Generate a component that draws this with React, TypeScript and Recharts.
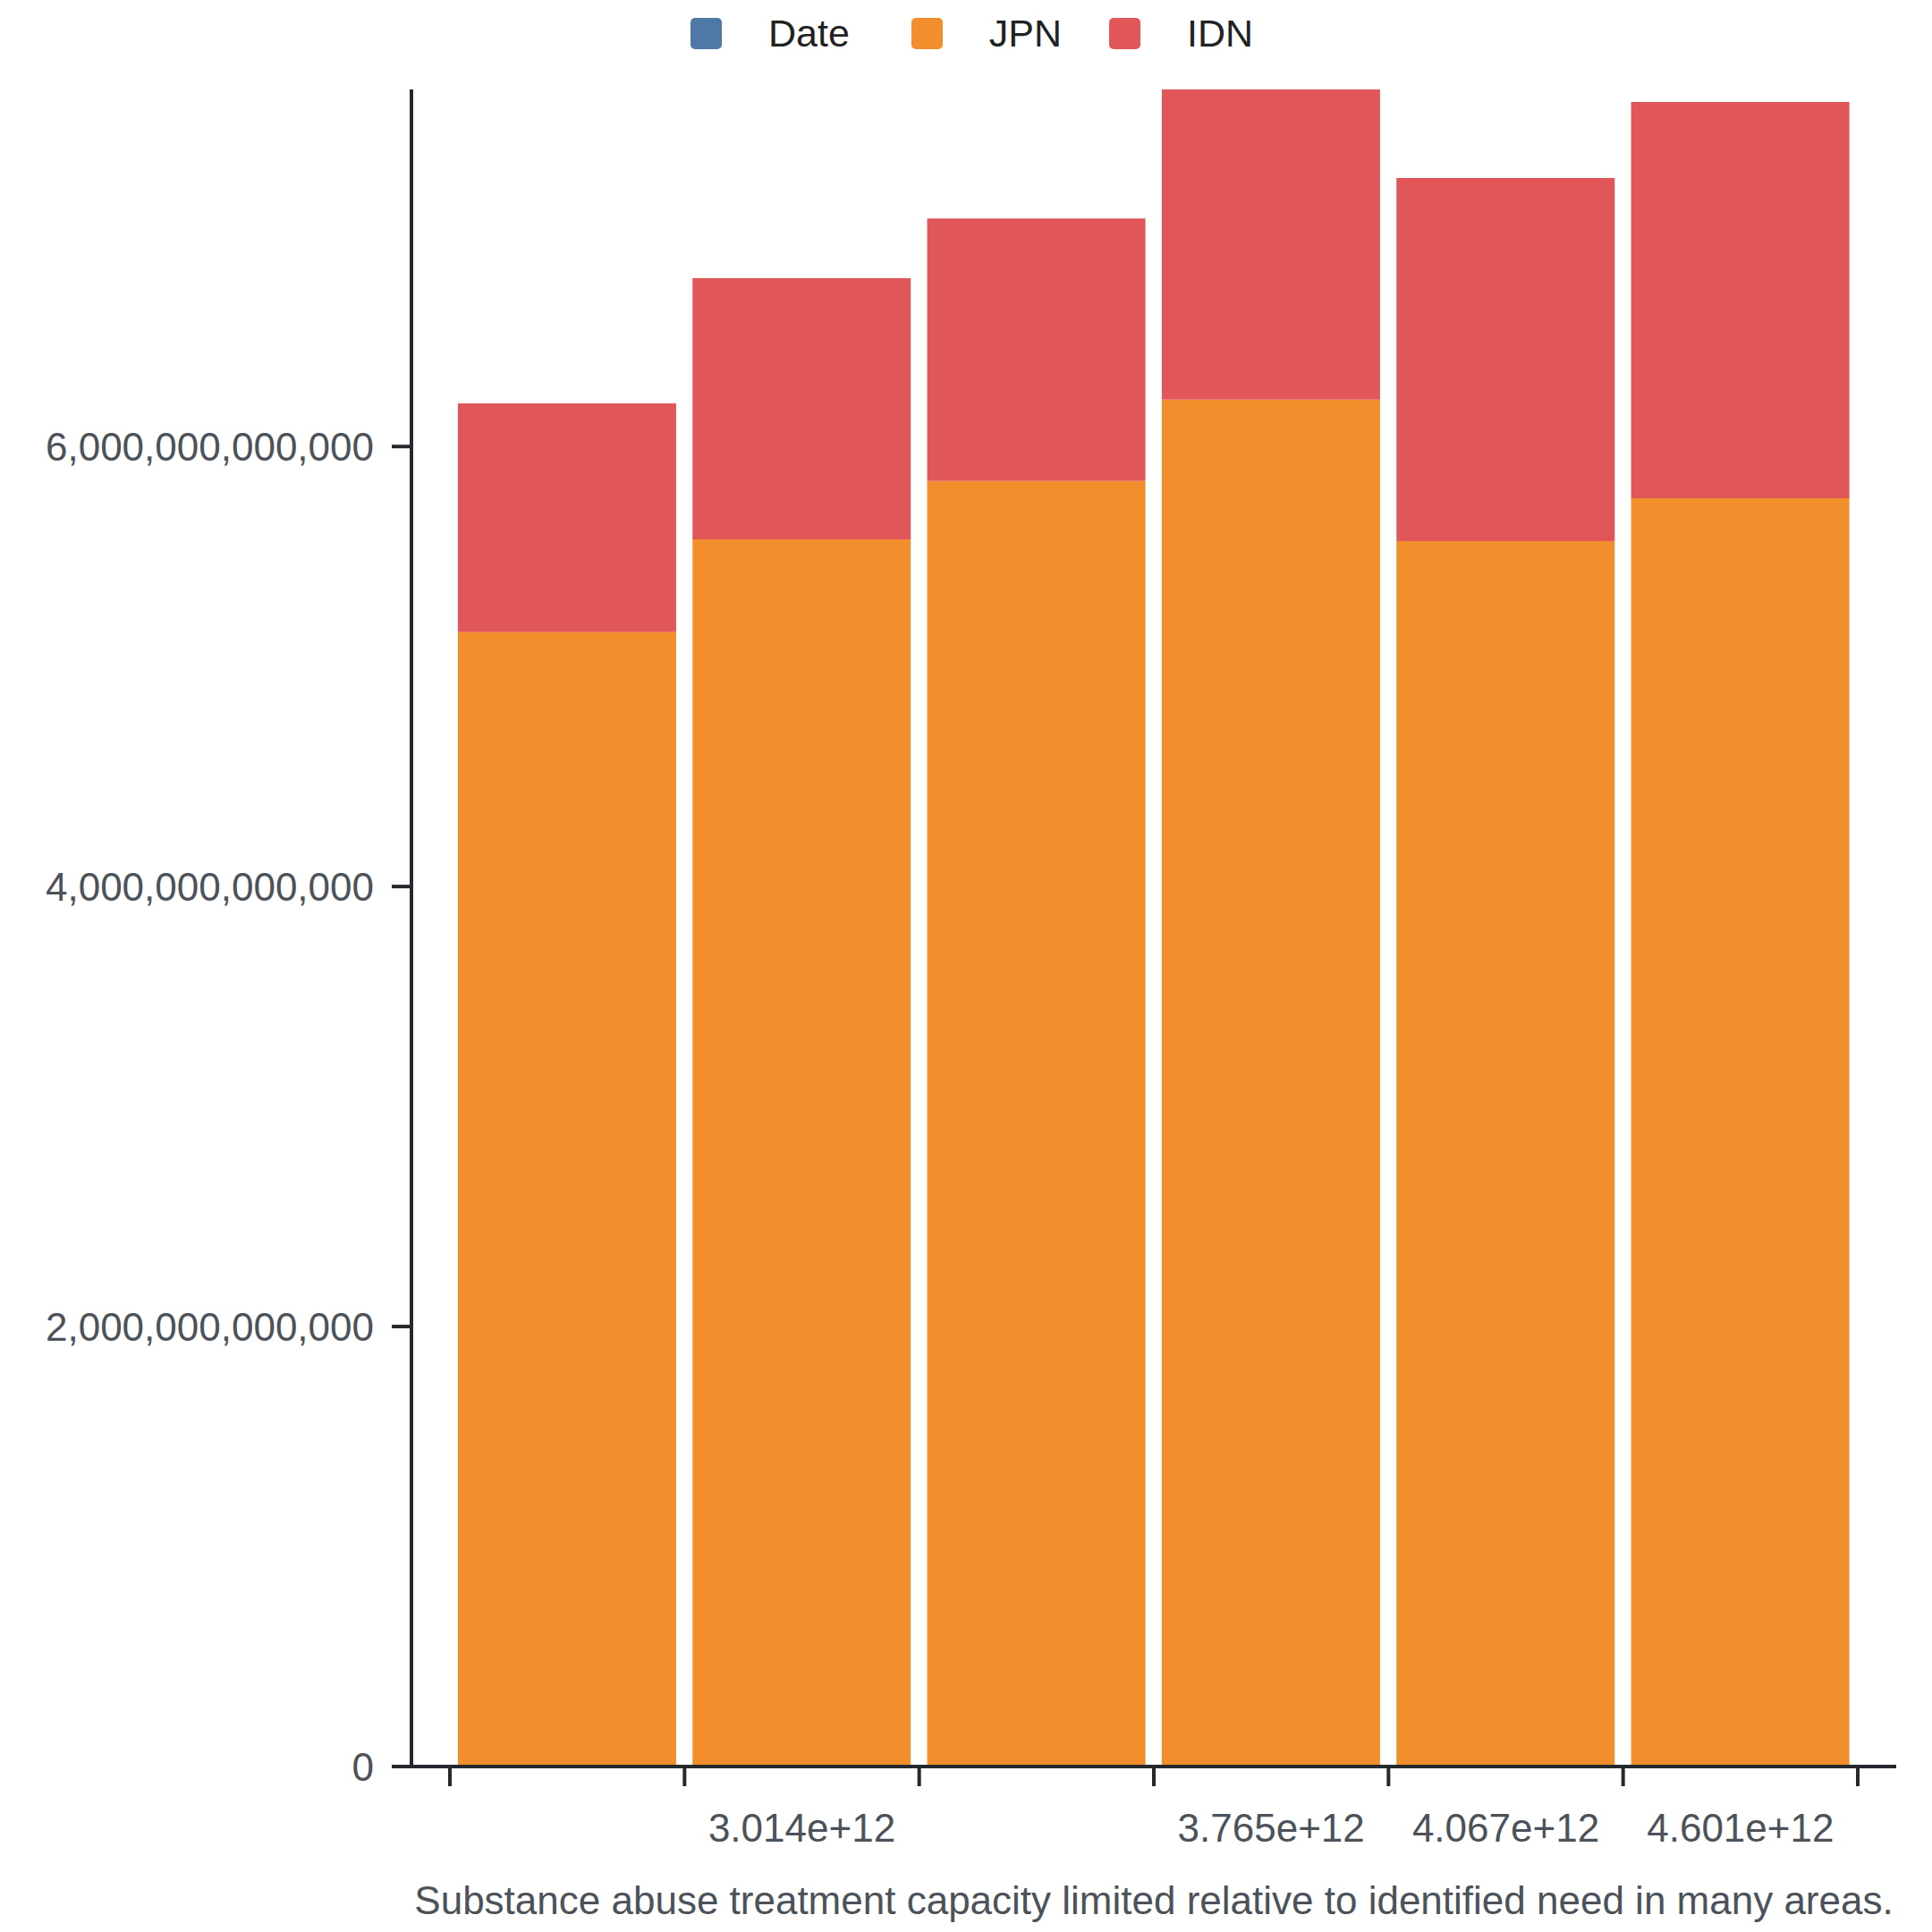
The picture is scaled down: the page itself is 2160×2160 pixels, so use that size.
import React from 'react';
import { BarChart, Bar, XAxis, YAxis, Legend, Label } from 'recharts';

const categories = ['', '3.014e+12', '', '3.765e+12', '4.067e+12', '4.601e+12'];
const jpnValues = [5.156e12, 5.578e12, 5.843e12, 6.213e12, 5.57e12, 5.765e12];
const idnValues = [1.04e12, 1.187e12, 1.194e12, 1.41e12, 1.65e12, 1.801e12];
const yTicks = [0, 2e12, 4e12, 6e12];
const legendItems = [
  { name: 'Date', color: '#4e79a7' },
  { name: 'JPN', color: '#f28e2b' },
  { name: 'IDN', color: '#e15759' },
];
const caption = 'Substance abuse treatment capacity limited relative to identified need in many areas.';

const data = categories.map((c, i) => ({ cat: c, JPN: jpnValues[i], IDN: idnValues[i] }));

const W = 2144;
const H = 2144;
const Y_AXIS_W = 452;
const MARGIN = { top: 8, right: 32, bottom: 0, left: 0 };
const X_PAD = 43;
const PLOT_W = W - MARGIN.left - MARGIN.right - Y_AXIS_W;
const BAND = (PLOT_W - 2 * X_PAD) / categories.length;

const FONT = '"Liberation Sans", Arial, sans-serif';
const AXIS = '#25282c';
const TEXT = '#4c5259';
// gap after each legend entry
const legendGaps = [69, 53, 0];

const XTick = (props: any) => {
  const { x, y, payload, index } = props;
  const last = index === categories.length - 1;
  return (
    <g>
      <line x1={x - BAND / 2} x2={x - BAND / 2} y1={y - 22} y2={y} stroke={AXIS} strokeWidth={4} />
      {last && <line x1={x + BAND / 2} x2={x + BAND / 2} y1={y - 22} y2={y} stroke={AXIS} strokeWidth={4} />}
      <text x={x} y={y + 62} textAnchor="middle" fill={TEXT} fontSize={44} fontFamily={FONT}>
        {payload.value}
      </text>
    </g>
  );
};

const LegendBox = () => (
  <div style={{ height: 84, display: 'flex', alignItems: 'flex-start', paddingLeft: 764, boxSizing: 'border-box' }}>
    {legendItems.map((it, i) => (
      <div key={it.name} style={{ display: 'flex', alignItems: 'center', marginRight: legendGaps[i], marginTop: 4 }}>
        <div style={{ width: 35, height: 35, borderRadius: 5, background: it.color, marginRight: 52 }} />
        <span style={{ fontFamily: FONT, fontSize: 43, color: '#222', lineHeight: '35px' }}>{it.name}</span>
      </div>
    ))}
  </div>
);

export default function App() {
  return (
    <div style={{ width: W, height: H }}>
      <BarChart width={W} height={H} data={data} margin={MARGIN} barCategoryGap="3.4%">
        <Legend verticalAlign="top" align="left" content={<LegendBox />} />
        <XAxis
          dataKey="cat"
          height={177}
          padding={{ left: X_PAD, right: X_PAD }}
          stroke={AXIS}
          strokeWidth={4}
          tickLine={false}
          tickSize={22}
          tickMargin={0}
          interval={0}
          tick={<XTick />}
        >
          <Label value={caption} position="insideBottom" offset={12} fill={TEXT} fontSize={44} fontFamily={FONT} />
        </XAxis>
        <YAxis
          width={Y_AXIS_W}
          domain={[0, 'dataMax']}
          ticks={yTicks}
          stroke={AXIS}
          strokeWidth={4}
          tickSize={22}
          tickMargin={20}
          tick={{ fill: TEXT, fontSize: 44, fontFamily: FONT }}
          tickFormatter={(v: number) => v.toLocaleString('en-US')}
        />
        <Bar dataKey="JPN" stackId="a" fill="#f28e2b" isAnimationActive={false} />
        <Bar dataKey="IDN" stackId="a" fill="#e15759" isAnimationActive={false} />
      </BarChart>
    </div>
  );
}
